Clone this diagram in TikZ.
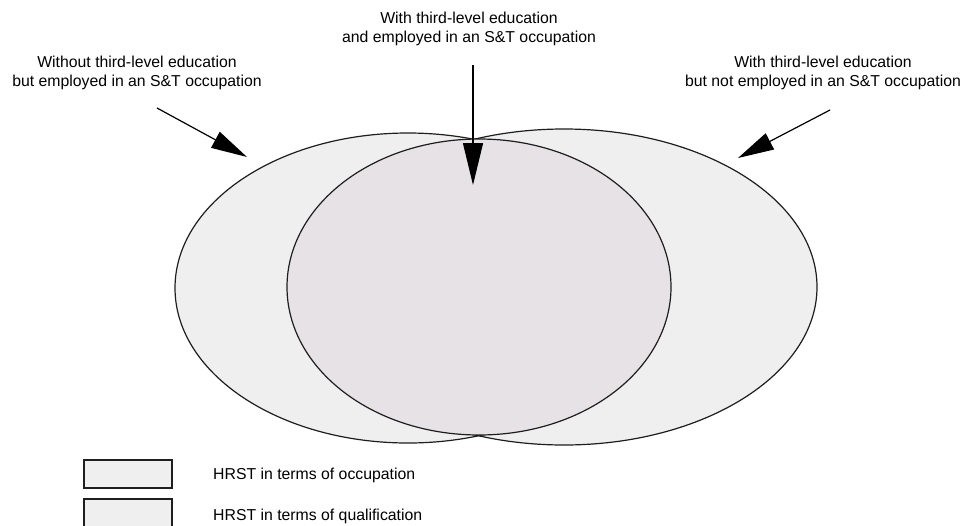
\documentclass[tikz,border=0pt]{standalone}
\usepackage{fontspec}
\setmainfont{Liberation Sans}
\usetikzlibrary{arrows.meta}
\definecolor{outerfill}{RGB}{239,239,239}
\definecolor{innerfill}{RGB}{231,226,229}
\definecolor{edgecol}{RGB}{30,30,30}
\begin{document}
\begin{tikzpicture}[x=1pt,y=-1pt,
  lbl/.style={align=center, inner sep=0pt, font=\fontsize{15.8}{19}\selectfont},
  legtext/.style={anchor=west, inner sep=0pt, font=\fontsize{15.8}{19}\selectfont},
  setline/.style={draw=edgecol, line width=1.2pt},
  pointer/.style={draw=black, line width=1.2pt, -{Triangle[length=36pt,width=18pt]}},
  legbox/.style={draw=edgecol, line width=1.6pt, fill=outerfill, minimum width=88pt, minimum height=28pt, inner sep=0pt, anchor=north west}]
\useasboundingbox (0,0) rectangle (965,525);
% sets
\fill[outerfill] (408,288) ellipse [x radius=233pt, y radius=155pt];
\fill[outerfill] (564,287) ellipse [x radius=253pt, y radius=158pt];
\draw[setline] (408,288) ellipse [x radius=233pt, y radius=155pt];
\draw[setline] (564,287) ellipse [x radius=253pt, y radius=158pt];
\filldraw[setline, fill=innerfill] (479,287) ellipse [x radius=192pt, y radius=148pt];
% labels
\node[lbl] (lefttext) at (137,72.5) {Without third-level education\\but employed in an S\&T occupation};
\node[lbl] (midtext) at (469,29) {With third-level education\\and employed in an S\&T occupation};
\node[lbl] (righttext) at (823,72.5) {With third-level education\\but not employed in an S\&T occupation};
% arrows
\coordinate (lstart) at (157,108);
\coordinate (ltip) at (247,157);
\coordinate (mstart) at (473,65);
\coordinate (mtip) at (473,185);
\coordinate (rstart) at (830,110);
\coordinate (rtip) at (738,158);
\draw[pointer] (lstart) -- (ltip);
\draw[pointer, -{Triangle[length=42pt,width=20pt]}] (mstart) -- (mtip);
\draw[pointer] (rstart) -- (rtip);
% legend
\node[legbox] (occbox) at (83,459) {};
\node[legbox] (qualbox) at (83,498) {};
\node[legtext] (occtext) at (213,475) {HRST in terms of occupation};
\node[legtext] (qualtext) at (213,516) {HRST in terms of qualification};
\end{tikzpicture}
\end{document}
